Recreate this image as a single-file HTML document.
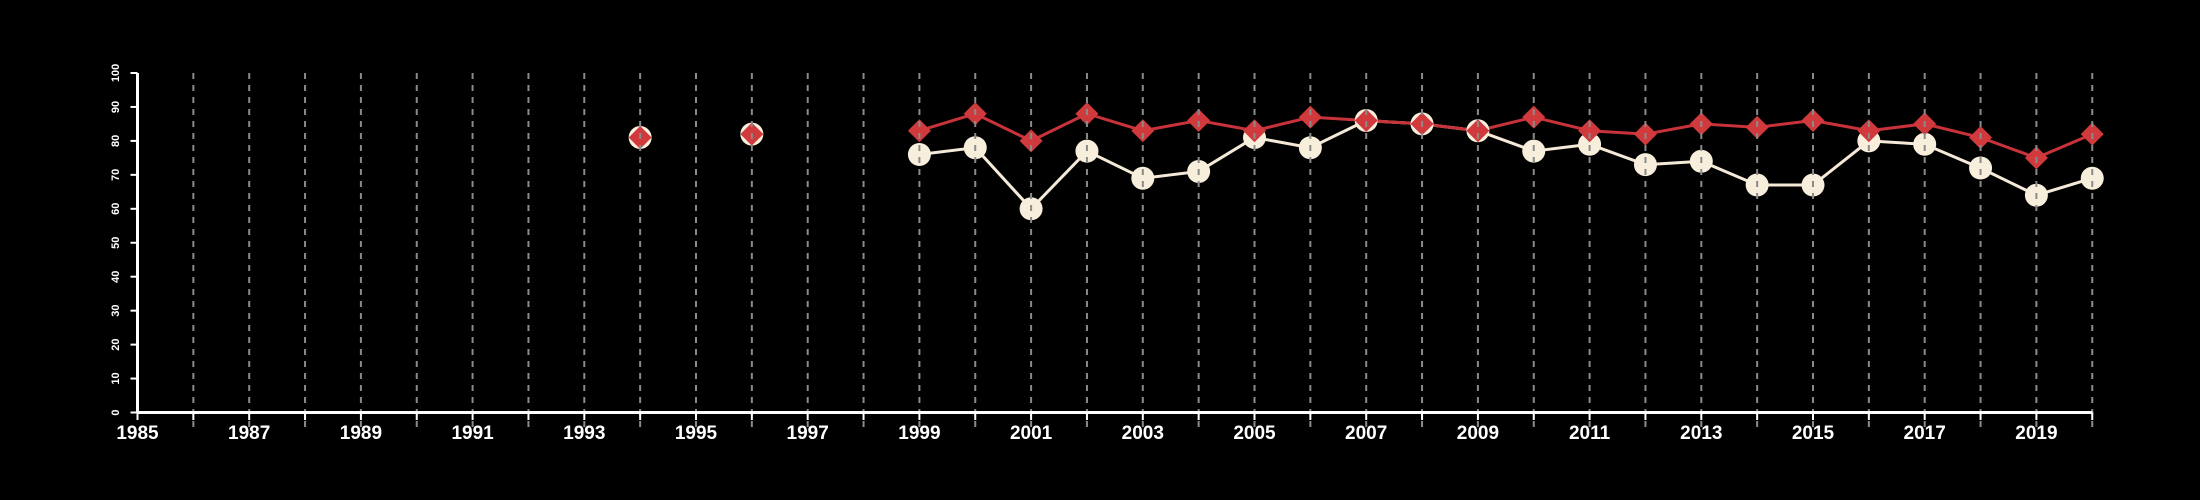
<!DOCTYPE html>
<html><head><meta charset="utf-8"><style>
html,body{margin:0;padding:0;background:#000;}
svg{display:block;}
text{font-family:"Liberation Sans",Arial,sans-serif;fill:#fff;}
</style></head><body>
<svg id="chart" width="2200" height="500" viewBox="0 0 2200 500" xmlns="http://www.w3.org/2000/svg">
<rect width="2200" height="500" fill="#000"/>
<g id="g-lines"></g>
<g id="g-marks"></g>
<g id="g-grid"></g>
<g id="g-axes"></g>
</svg>
<script>
const years = [1994,1996,1999,2000,2001,2002,2003,2004,2005,2006,2007,2008,2009,2010,2011,2012,2013,2014,2015,2016,2017,2018,2019,2020];
const redValues = [81,82,83,88,80,88,83,86,83,87,86,85,83,87,83,82,85,84,86,83,85,81,75,82];
const creamValues = [81,82,76,78,60,77,69,71,81,78,86,85,83,77,79,73,74,67,67,80,79,72,64,69];
const yTicks = [0,10,20,30,40,50,60,70,80,90,100];
const xLabels = [1985,1987,1989,1991,1993,1995,1997,1999,2001,2003,2005,2007,2009,2011,2013,2015,2017,2019];

const NS="http://www.w3.org/2000/svg";
const X0=137.5, XW=55.85, Y0=412.5, YH=3.395;
function xs(v){return X0+(v-1985)*XW;}
function ys(v){return Y0-v*YH;}
function mk(tag,attrs,parent){const e=document.createElementNS(NS,tag);for(const k in attrs)e.setAttribute(k,attrs[k]);parent.appendChild(e);return e;}
const gL=document.getElementById('g-lines'),gM=document.getElementById('g-marks'),gG=document.getElementById('g-grid'),gA=document.getElementById('g-axes');

function segs(vals){
  const out=[];let cur=[];
  for(let i=0;i<years.length;i++){
    if(i>0 && years[i]-years[i-1]>1){if(cur.length)out.push(cur);cur=[];}
    cur.push([xs(years[i]),ys(vals[i])]);
  }
  if(cur.length)out.push(cur);
  return out;
}
segs(creamValues).forEach(s=>{if(s.length>1){
  const p=mk('polyline',{points:s.map(q=>q.join(',')).join(' '),fill:'none',stroke:'#f5ead8','stroke-width':3},gL);
  
  
}});
segs(redValues).forEach(s=>{if(s.length>1){
  const p=mk('polyline',{points:s.map(q=>q.join(',')).join(' '),fill:'none',stroke:'#c8323a','stroke-width':3},gL);
  
  
}});
years.forEach((yr,i)=>{
  const c=mk('circle',{cx:xs(yr),cy:ys(creamValues[i]),r:11.5,fill:'#f8eedc'},gM);
  
  
});
years.forEach((yr,i)=>{
  const x=xs(yr),y=ys(redValues[i]),d=11.5;
  const p=mk('polygon',{points:`${x},${y-d} ${x+d},${y} ${x},${y+d} ${x-d},${y}`,fill:'#d13a3d'},gM);
  
  
});
for(let yr=1986;yr<=2020;yr++){
  const l=mk('line',{x1:xs(yr),x2:xs(yr),y1:ys(100),y2:427,stroke:'#8a8a8a','stroke-width':2,'stroke-dasharray':'6,6'},gG);
  
  
}
// axes
let a=mk('line',{x1:X0,x2:X0,y1:ys(100),y2:Y0,stroke:'#fff','stroke-width':3},gA);


a=mk('line',{x1:X0,x2:xs(2020),y1:Y0,y2:Y0,stroke:'#fff','stroke-width':3},gA);


yTicks.forEach(v=>{
  const t=mk('line',{x1:X0-7,x2:X0,y1:ys(v),y2:ys(v),stroke:'#fff','stroke-width':2},gA);
  
  
  const tx=mk('text',{x:0,y:0,transform:`translate(119,${ys(v)}) rotate(-90)`,'text-anchor':'middle','font-size':11,'font-weight':'bold'},gA);
  tx.textContent=v;
  
  
});
for(let yr=1985;yr<=2020;yr++){
  const t=mk('line',{x1:xs(yr),x2:xs(yr),y1:Y0,y2:420,stroke:'#fff','stroke-width':2},gA);
  
  
}
xLabels.forEach(yr=>{
  const tx=mk('text',{x:xs(yr),y:439,'text-anchor':'middle','font-size':19,'font-weight':'bold'},gA);
  tx.textContent=yr;
  
  
});
</script>
</body></html>
